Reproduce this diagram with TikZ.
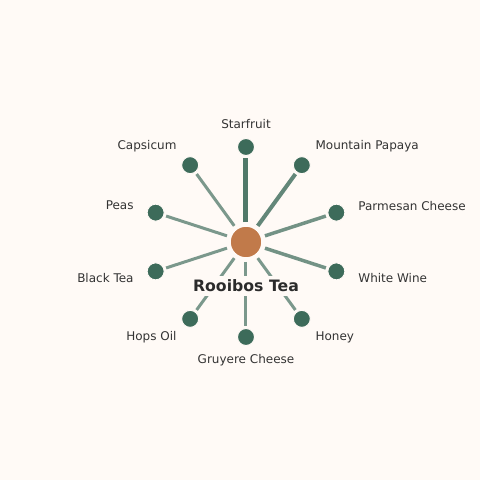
\documentclass[tikz,border=0pt]{standalone}
\usepackage{fontspec}
\setmainfont{DejaVu Sans}
\usepackage{xcolor}
\usepackage{tikz}
\usetikzlibrary{positioning}

\definecolor{paper}{HTML}{FFFAF6}
\definecolor{leafgreen}{HTML}{3D6B5A}
\definecolor{rooibos}{HTML}{C17A4A}
\definecolor{inkgray}{HTML}{333333}
\definecolor{titleink}{HTML}{2B2B2B}

\begin{document}
\begin{tikzpicture}[
	x=1pt, y=1pt,
	font=\fontsize{12}{14}\selectfont
]
\tikzset{
    hubnode/.style = {circle, fill=rooibos, draw=paper, line width=1.5pt, minimum size=32pt, inner sep=0pt},
    leafnode/.style = {circle, fill=leafgreen, draw=paper, line width=1pt, minimum size=17pt, inner sep=0pt},
    leaflabel/.style = {text=inkgray, inner sep=0pt},
    spoke/.style = {draw=leafgreen, shorten <=3.2pt, shorten >=2pt},
}
\fill[paper] (-246,-238) rectangle (234,242);
\useasboundingbox (-246,-238) rectangle (234,242);

\node[hubnode] (hub) at (0,0) {};
\node[leafnode] (starfruit) at (90:95) {};
\node[leafnode] (papaya) at (54:95) {};
\node[leafnode] (parmesan) at (18:95) {};
\node[leafnode] (wine) at (-18:95) {};
\node[leafnode] (honey) at (-54:95) {};
\node[leafnode] (gruyere) at (-90:95) {};
\node[leafnode] (hops) at (-126:95) {};
\node[leafnode] (blacktea) at (-162:95) {};
\node[leafnode] (peas) at (162:95) {};
\node[leafnode] (capsicum) at (126:95) {};

\draw[spoke, line width=5pt, draw opacity=.9] (hub) -- (starfruit);
\draw[spoke, line width=4pt, draw opacity=.8] (hub) -- (papaya);
\draw[spoke, line width=3.5pt, draw opacity=.72] (hub) -- (parmesan);
\draw[spoke, line width=3.5pt, draw opacity=.72] (hub) -- (wine);
\draw[spoke, line width=3pt, draw opacity=.68] (hub) -- (honey);
\draw[spoke, line width=3pt, draw opacity=.68] (hub) -- (gruyere);
\draw[spoke, line width=3pt, draw opacity=.68] (hub) -- (hops);
\draw[spoke, line width=3pt, draw opacity=.68] (hub) -- (blacktea);
\draw[spoke, line width=3pt, draw opacity=.68] (hub) -- (peas);
\draw[spoke, line width=3pt, draw opacity=.68] (hub) -- (capsicum);

\node[leaflabel] (starfruit-l) at (90:118) {Starfruit};
\node[leaflabel, anchor=west] (papaya-l) at (54:118) {Mountain Papaya};
\node[leaflabel, anchor=west] (parmesan-l) at (18:118) {Parmesan Cheese};
\node[leaflabel, anchor=west] (wine-l) at (-18:118) {White Wine};
\node[leaflabel, anchor=west] (honey-l) at (-54:118) {Honey};
\node[leaflabel] (gruyere-l) at (-90:118) {Gruyere Cheese};
\node[leaflabel, anchor=east] (hops-l) at (-126:118) {Hops Oil};
\node[leaflabel, anchor=east] (blacktea-l) at (-162:118) {Black Tea};
\node[leaflabel, anchor=east] (peas-l) at (162:118) {Peas};
\node[leaflabel, anchor=east] (capsicum-l) at (126:118) {Capsicum};

\node[fill=paper, inner sep=4pt, text=titleink, font=\bfseries\fontsize{15.7}{18}\selectfont] (title) at (0,-44) {Rooibos Tea};
\end{tikzpicture}
\end{document}
